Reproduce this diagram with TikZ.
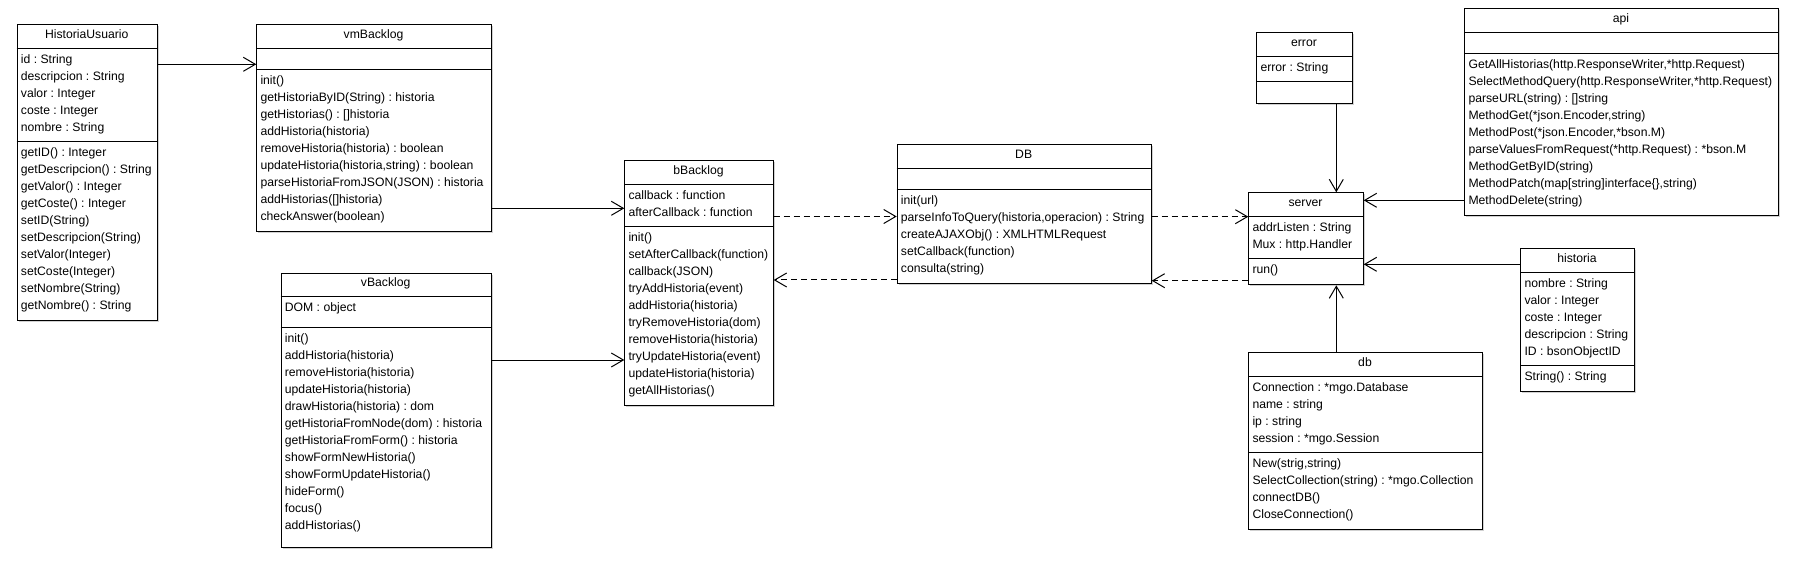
\documentclass[tikz,border=0pt]{standalone}
\usepackage{fontspec}
\setmainfont{Liberation Sans}
\usetikzlibrary{arrows.meta,shadows}
\frenchspacing
\newcommand{\umlrows}[3]{\foreach \t [count=\i from 0] in {#3}{\node[row] at (#1,#2+17*\i) {\t};}}
\tikzset{
  cls/.style={draw, line width=1pt, fill=white, anchor=north west, inner sep=0pt,
    drop shadow={shadow xshift=1.5pt, shadow yshift=-1.5pt, fill=black!40, opacity=0.45}},
  row/.style={anchor=base west, inner sep=0pt},
  hdr/.style={anchor=base, inner sep=0pt},
  divider/.style={line width=1pt},
  assoc/.style={draw, line width=1pt, -{Straight Barb[length=12pt,width=14pt,line width=1pt]}},
  dep/.style={assoc, dash pattern=on 6pt off 4pt},
}
\begin{document}
\begin{tikzpicture}[x=1pt,y=-1pt,font=\fontsize{12.2}{14}\selectfont\frenchspacing]
\useasboundingbox (0,0) rectangle (1799,577);
\fill[white] (0,0) rectangle (1799,577);

% HistoriaUsuario
\node[cls, minimum width=140pt, minimum height=296pt] (hu) at (16.7,24.3) {};
\node[hdr] at (86.7,38.3) {HistoriaUsuario};
\draw[divider] (16.7,48.3) -- (156.7,48.3);
\draw[divider] (16.7,141.3) -- (156.7,141.3);
\umlrows{20.7}{63.3}{id : String, descripcion : String, valor : Integer, coste : Integer, nombre : String}
\umlrows{20.7}{156.3}{getID() : Integer, getDescripcion() : String, getValor() : Integer, getCoste() : Integer, setID(String), setDescripcion(String), setValor(Integer), setCoste(Integer), setNombre(String), getNombre() : String}

% vmBacklog
\node[cls, minimum width=234.4pt, minimum height=206.7pt] (vm) at (256.3,24.3) {};
\node[hdr] at (373.5,38.3) {vmBacklog};
\draw[divider] (256.3,48.3) -- (490.7,48.3);
\draw[divider] (256.3,69.3) -- (490.7,69.3);
\umlrows{260.3}{84.3}{init(), getHistoriaByID(String) : historia, getHistorias() : []historia, addHistoria(historia), removeHistoria(historia) : boolean, {updateHistoria(historia,string) : boolean}, parseHistoriaFromJSON(JSON) : historia, addHistorias([]historia), checkAnswer(boolean)}

% vBacklog
\node[cls, minimum width=210pt, minimum height=274.6pt] (vb) at (280.7,272.7) {};
\node[hdr] at (385.7,286.7) {vBacklog};
\draw[divider] (280.7,296.3) -- (490.7,296.3);
\draw[divider] (280.7,327.3) -- (490.7,327.3);
\umlrows{284.7}{311.3}{DOM : object}
\umlrows{284.7}{342.3}{init(), addHistoria(historia), removeHistoria(historia), updateHistoria(historia), drawHistoria(historia) : dom, getHistoriaFromNode(dom) : historia, getHistoriaFromForm() : historia, showFormNewHistoria(), showFormUpdateHistoria(), hideForm(), focus(), addHistorias()}

% bBacklog
\node[cls, minimum width=148.4pt, minimum height=245pt] (bb) at (624.3,160.3) {};
\node[hdr] at (698.5,174.3) {bBacklog};
\draw[divider] (624.3,184.3) -- (772.7,184.3);
\draw[divider] (624.3,226.7) -- (772.7,226.7);
\umlrows{628.3}{199.3}{callback : function, afterCallback : function}
\umlrows{628.3}{241.7}{init(), setAfterCallback(function), callback(JSON), tryAddHistoria(event), addHistoria(historia), tryRemoveHistoria(dom), removeHistoria(historia), tryUpdateHistoria(event), updateHistoria(historia), getAllHistorias()}

% DB
\node[cls, minimum width=254pt, minimum height=139pt] (dbc) at (896.7,144.3) {};
\node[hdr] at (1023.7,158.3) {DB};
\draw[divider] (896.7,168.3) -- (1150.7,168.3);
\draw[divider] (896.7,189.3) -- (1150.7,189.3);
\umlrows{900.7}{204.3}{init(url), {parseInfoToQuery(historia,operacion) : String}, createAJAXObj() : XMLHTMLRequest, setCallback(function), consulta(string)}

% error
\node[cls, minimum width=95.4pt, minimum height=71pt] (er) at (1256.3,32.3) {};
\node[hdr] at (1304,46.3) {error};
\draw[divider] (1256.3,56.3) -- (1351.7,56.3);
\draw[divider] (1256.3,81.3) -- (1351.7,81.3);
\umlrows{1260.3}{71.3}{error : String}

% server
\node[cls, minimum width=114.4pt, minimum height=92pt] (sv) at (1248.3,192.3) {};
\node[hdr] at (1305.5,206.3) {server};
\draw[divider] (1248.3,216.3) -- (1362.7,216.3);
\draw[divider] (1248.3,258.3) -- (1362.7,258.3);
\umlrows{1252.3}{231.3}{addrListen : String, Mux : http.Handler}
\umlrows{1252.3}{273.3}{run()}

% api
\node[cls, minimum width=313.4pt, minimum height=207pt] (api) at (1464.3,8.3) {};
\node[hdr] at (1621,22.3) {api};
\draw[divider] (1464.3,32.3) -- (1777.7,32.3);
\draw[divider] (1464.3,53.3) -- (1777.7,53.3);
\umlrows{1468.3}{68.3}{{GetAllHistorias(http.ResponseWriter,*http.Request)}, {SelectMethodQuery(http.ResponseWriter,*http.Request)}, parseURL(string) : []string, {MethodGet(*json.Encoder,string)}, {MethodPost(*json.Encoder,*bson.M)}, parseValuesFromRequest(*http.Request) : *bson.M, MethodGetByID(string), {MethodPatch(map[string]interface\{\},string)}, MethodDelete(string)}

% historia
\node[cls, minimum width=113.4pt, minimum height=143pt] (hi) at (1520.3,248.3) {};
\node[hdr] at (1577,262.3) {historia};
\draw[divider] (1520.3,272.3) -- (1633.7,272.3);
\draw[divider] (1520.3,365.3) -- (1633.7,365.3);
\umlrows{1524.3}{287.3}{nombre : String, valor : Integer, coste : Integer, descripcion : String, ID : bsonObjectID}
\umlrows{1524.3}{380.3}{String() : String}

% db
\node[cls, minimum width=233.4pt, minimum height=177pt] (dbs) at (1248.3,352.3) {};
\node[hdr] at (1365,366.3) {db};
\draw[divider] (1248.3,376.3) -- (1481.7,376.3);
\draw[divider] (1248.3,452) -- (1481.7,452);
\umlrows{1252.3}{391.3}{Connection : *mgo.Database, name : string, ip : string, session : *mgo.Session}
\umlrows{1252.3}{467}{{New(strig,string)}, SelectCollection(string) : *mgo.Collection, connectDB(), CloseConnection()}

% connectors
\draw[assoc] (hu.east |- 0,64.3) -- (vm.west |- 0,64.3);
\draw[assoc] (vm.east |- 0,208.3) -- (bb.west |- 0,208.3);
\draw[assoc] (vb.east |- 0,360) -- (bb.west |- 0,360);
\draw[dep] (bb.east |- 0,216.5) -- (dbc.west |- 0,216.5);
\draw[dep] (dbc.west |- 0,280) -- (bb.east |- 0,280);
\draw[dep] (dbc.east |- 0,216.7) -- (sv.west |- 0,216.7);
\draw[dep] (sv.west |- 0,280.7) -- (dbc.east |- 0,280.7);
\draw[assoc] (er.south -| 1336.3,0) -- (sv.north -| 1336.3,0);
\draw[assoc] (api.west |- 0,200.3) -- (sv.east |- 0,200.3);
\draw[assoc] (hi.west |- 0,264.3) -- (sv.east |- 0,264.3);
\draw[assoc] (dbs.north -| 1336.3,0) -- (sv.south -| 1336.3,0);
\end{tikzpicture}
\end{document}
